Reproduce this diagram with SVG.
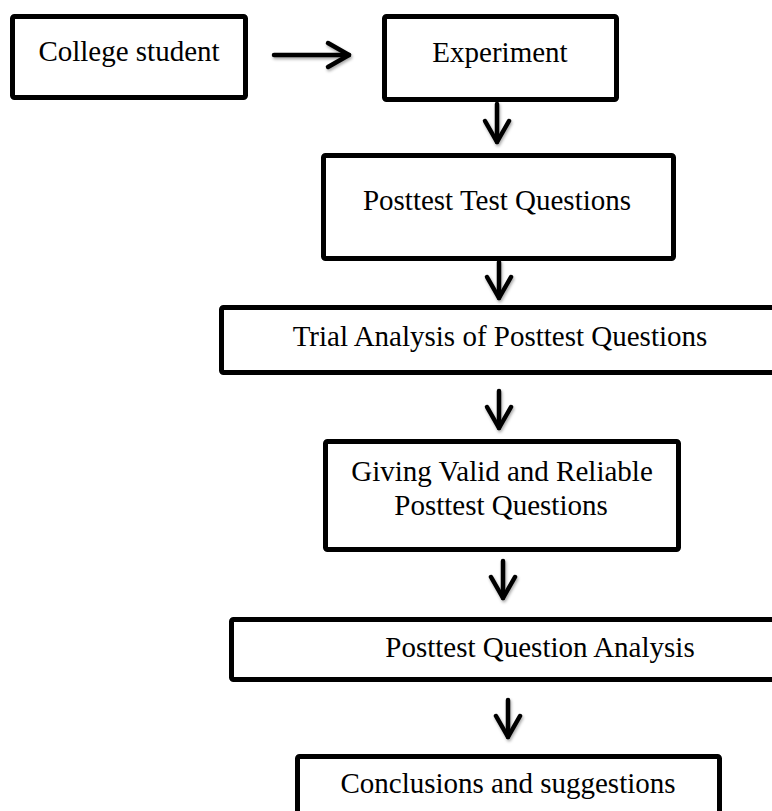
<svg xmlns="http://www.w3.org/2000/svg" width="772" height="811" viewBox="0 0 772 811">
<style>
.box{fill:#fff;stroke:#000;stroke-width:5}
.lbl{font-family:"Liberation Serif","Times New Roman",serif;font-size:29px;fill:#000;text-anchor:middle}
.con{stroke:#000;stroke-width:4.5;fill:none;stroke-linecap:round}
</style>
<defs>
<filter id="sh" x="-50%" y="-50%" width="200%" height="200%">
<feDropShadow dx="1" dy="2" stdDeviation="1.5" flood-color="#000" flood-opacity="0.35"/>
</filter>
<marker id="ah" markerUnits="userSpaceOnUse" viewBox="-26 -16 30 32" markerWidth="30" markerHeight="32" refX="0" refY="0" orient="auto">
<path d="M-21,-12 L0,0 L-21,12" fill="none" stroke="#000" stroke-width="4.5" stroke-linecap="round" stroke-linejoin="round"/>
</marker>
</defs>
<rect width="772" height="811" fill="#fff"/>
<g id="connectors" filter="url(#sh)">
<line class="con" x1="274" y1="55" x2="349" y2="55" marker-end="url(#ah)"/>
<line class="con" x1="497" y1="104" x2="497" y2="142" marker-end="url(#ah)"/>
<line class="con" x1="499" y1="262" x2="499" y2="298" marker-end="url(#ah)"/>
<line class="con" x1="499" y1="391" x2="499" y2="428" marker-end="url(#ah)"/>
<line class="con" x1="503" y1="561" x2="503" y2="598" marker-end="url(#ah)"/>
<line class="con" x1="508" y1="700" x2="508" y2="737" marker-end="url(#ah)"/>
</g>
<g id="college-student">
<rect class="box" x="12.5" y="16.5" width="233" height="81" rx="2"/>
<text class="lbl" x="129" y="61">College student</text>
</g>
<g id="experiment">
<rect class="box" x="384.5" y="16.5" width="232" height="83" rx="2"/>
<text class="lbl" x="500" y="62">Experiment</text>
</g>
<g id="posttest-test-questions">
<rect class="box" x="323.5" y="155.5" width="350" height="103" rx="2"/>
<text class="lbl" x="497" y="210">Posttest Test Questions</text>
</g>
<g id="trial-analysis">
<rect class="box" x="221.5" y="307.5" width="600" height="65" rx="2"/>
<text class="lbl" x="500" y="346">Trial Analysis of Posttest Questions</text>
</g>
<g id="giving-valid">
<rect class="box" x="325.5" y="441.5" width="353" height="108" rx="2"/>
<text class="lbl" x="502" y="481">Giving Valid and Reliable</text>
<text class="lbl" x="501" y="515">Posttest Questions</text>
</g>
<g id="posttest-question-analysis">
<rect class="box" x="231.5" y="619.5" width="600" height="60" rx="2"/>
<text class="lbl" x="540" y="657">Posttest Question Analysis</text>
</g>
<g id="conclusions">
<rect class="box" x="297.5" y="756.5" width="422" height="100" rx="2"/>
<text class="lbl" x="508" y="793">Conclusions and suggestions</text>
</g>
</svg>
